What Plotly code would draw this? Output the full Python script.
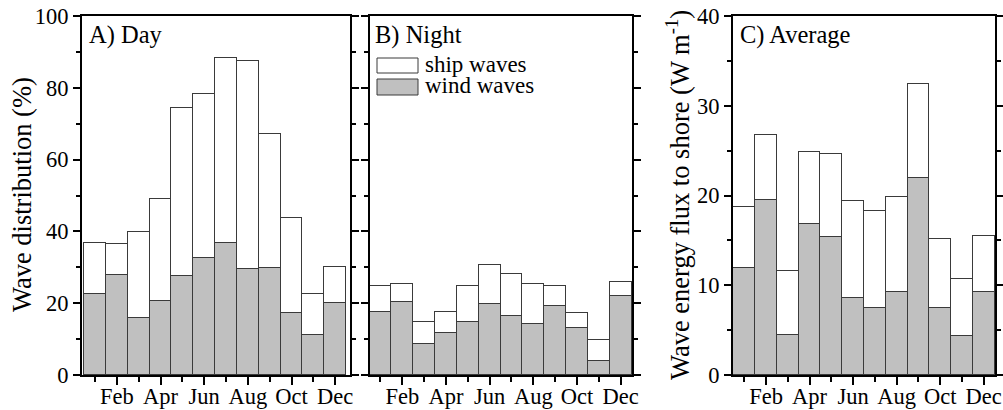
import plotly.graph_objects as go

months = ["Jan", "Feb", "Mar", "Apr", "May", "Jun", "Jul", "Aug", "Sep", "Oct", "Nov", "Dec"]
month_pos = list(range(1, 13))
tick_pos = [2, 4, 6, 8, 10, 12]
tick_text = ["Feb", "Apr", "Jun", "Aug", "Oct", "Dec"]

# A) Day (%)
day_total = [36.9, 36.4, 39.7, 48.9, 74.3, 78.3, 88.2, 87.6, 67.0, 43.8, 22.7, 30.0]
day_wind = [22.7, 27.9, 15.8, 20.6, 27.5, 32.5, 36.8, 29.4, 29.7, 17.2, 11.1, 20.1]
# B) Night (%)
night_total = [24.7, 25.3, 14.9, 17.5, 24.9, 30.6, 28.0, 25.3, 24.8, 17.4, 9.7, 26.0]
night_wind = [17.5, 20.4, 8.6, 11.8, 14.9, 19.7, 16.3, 14.3, 19.1, 13.0, 4.0, 22.0]
# C) Average (W m-1)
avg_total = [18.7, 26.7, 11.6, 24.9, 24.6, 19.4, 18.3, 19.8, 32.4, 15.2, 10.7, 15.5]
avg_wind = [11.9, 19.5, 4.5, 16.8, 15.4, 8.6, 7.5, 9.3, 22.0, 7.5, 4.3, 9.2]

day_ship = [t - w for t, w in zip(day_total, day_wind)]
night_ship = [t - w for t, w in zip(night_total, night_wind)]
avg_ship = [t - w for t, w in zip(avg_total, avg_wind)]

FONT = "Liberation Serif, Times New Roman, serif"
W, H = 1003, 410
GRAY = "#c0c0c0"
EDGE = "#3a3a3a"

fig = go.Figure()

panels = [
    ("x", "y", day_wind, day_ship),
    ("x2", "y2", night_wind, night_ship),
    ("x3", "y3", avg_wind, avg_ship),
]
for i, (xa, ya, wind, ship) in enumerate(panels):
    fig.add_trace(go.Bar(x=month_pos, y=wind, xaxis=xa, yaxis=ya, width=1.0,
                         marker=dict(color=GRAY, line=dict(color=EDGE, width=1)),
                         name="wind waves", showlegend=False))
    fig.add_trace(go.Bar(x=month_pos, y=ship, xaxis=xa, yaxis=ya, width=1.0,
                         marker=dict(color="white", line=dict(color=EDGE, width=1)),
                         name="ship waves", showlegend=False))

def px_x(p):
    return p / W

def px_y(p):
    return (H - p) / H

ydom = [px_y(375), px_y(16)]
xdoms = [[px_x(82), px_x(350)], [px_x(370), px_x(632)], [px_x(733), px_x(995)]]
xranges = [[0.4, 12.68], [0.52, 12.52], [0.48, 12.52]]

tickfont = dict(family=FONT, size=22.5, color="black")

def xaxis_cfg(dom, rng, anchor):
    return dict(domain=dom, range=rng, anchor=anchor, tickmode="array", automargin=False,
                tickvals=tick_pos, ticktext=tick_text, ticks="outside", ticklen=8,
                tickwidth=2, tickcolor="black", showline=True, linecolor="black",
                linewidth=2, mirror=True, showgrid=False, zeroline=False,
                tickfont=tickfont, ticklabelstandoff=-8,
                minor=dict(tickmode="array", tickvals=month_pos, ticks="outside",
                           ticklen=5, tickwidth=2, tickcolor="black", showgrid=False))

def yaxis_cfg(anchor, rng, dtick, showlabels):
    return dict(domain=ydom, range=rng, anchor=anchor, tickmode="linear", tick0=0,
                automargin=False,
                dtick=dtick, ticks="outside", ticklen=7, tickwidth=2, tickcolor="black",
                showline=True, linecolor="black", linewidth=2, mirror="ticks",
                showgrid=False, zeroline=False, showticklabels=showlabels,
                tickfont=tickfont,
                minor=dict(tickmode="linear", tick0=0, dtick=dtick / 2, ticks="outside",
                           ticklen=4, tickwidth=2, tickcolor="black", showgrid=False))

fig.update_layout(
    width=W, height=H, margin=dict(l=0, r=0, t=0, b=0, autoexpand=False),
    paper_bgcolor="white", plot_bgcolor="white",
    barmode="stack", bargap=0, showlegend=False,
    font=dict(family=FONT, color="black"),
    xaxis=xaxis_cfg(xdoms[0], xranges[0], "y"),
    xaxis2=xaxis_cfg(xdoms[1], xranges[1], "y2"),
    xaxis3=xaxis_cfg(xdoms[2], xranges[2], "y3"),
    yaxis=yaxis_cfg("x", [0, 100], 20, True),
    yaxis2=yaxis_cfg("x2", [0, 100], 20, False),
    yaxis3=yaxis_cfg("x3", [0, 40], 10, True),
)

annots = [
    dict(text="Wave distribution (%)", x=px_x(22), y=px_y(195), textangle=-90, size=26.5),
    dict(text="Wave energy flux to shore (W m<sup>-1</sup>)", x=px_x(678), y=px_y(195), textangle=-90, size=26.5),
]
for a in annots:
    fig.add_annotation(text=a["text"], x=a["x"], y=a["y"], xref="paper", yref="paper",
                       textangle=a["textangle"], showarrow=False,
                       font=dict(family=FONT, size=a["size"], color="black"),
                       xanchor="center", yanchor="middle")

labels = [("A) Day", 87), ("B) Night", 373), ("C) Average", 738)]
for txt, xp in labels:
    fig.add_annotation(text=txt, x=px_x(xp), y=px_y(35), xref="paper", yref="paper",
                       showarrow=False, xanchor="left", yanchor="middle",
                       font=dict(family=FONT, size=24.5, color="black"))

# legend drawn in panel B
legend_items = [("ship waves", "white", 58, 73), ("wind waves", GRAY, 79, 95)]
for name, col, y0, y1 in legend_items:
    fig.add_shape(type="rect", xref="paper", yref="paper",
                  x0=px_x(377), x1=px_x(418), y0=px_y(y1), y1=px_y(y0),
                  fillcolor=col, line=dict(color=EDGE, width=1))
    fig.add_annotation(text=name, x=px_x(423), y=px_y((y0 + y1) / 2 - 1), xref="paper", yref="paper",
                       showarrow=False, xanchor="left", yanchor="middle",
                       font=dict(family=FONT, size=23, color="black"))

fig.write_html("out.html")
